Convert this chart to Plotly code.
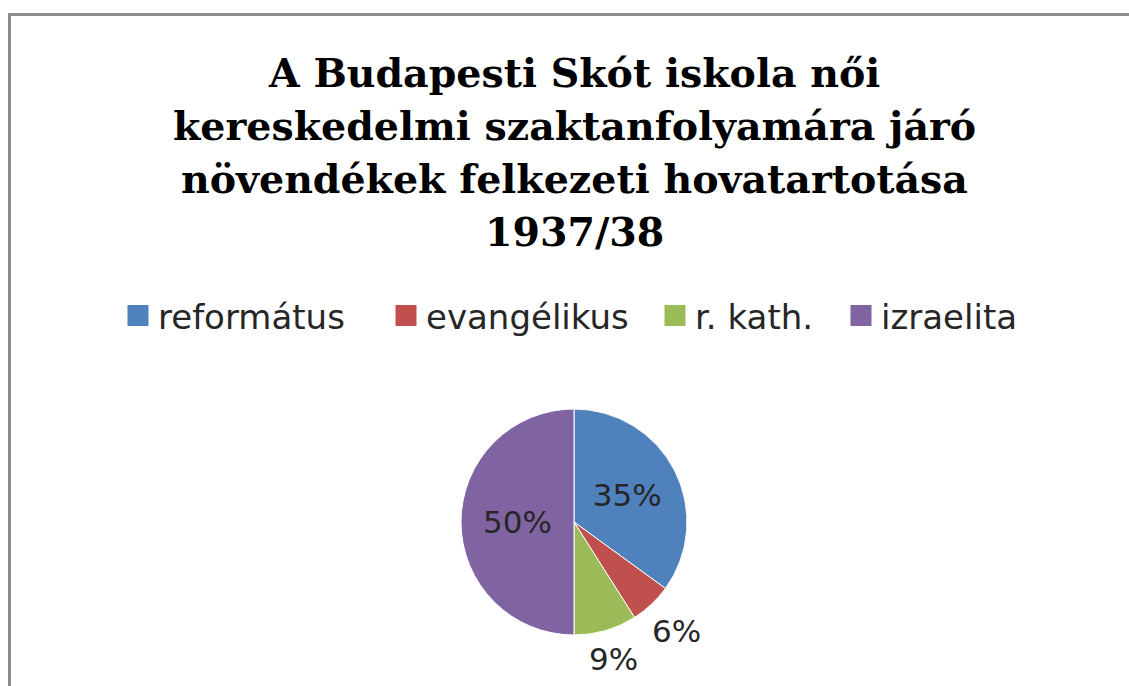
import math
import plotly.graph_objects as go

W, H = 1129, 686

categories = ["református", "evangélikus", "r. kath.", "izraelita"]
values = [35, 6, 9, 50]
colors = ["#4F81BD", "#C0504D", "#9BBB59", "#8064A2"]
label_inside = [True, False, False, True]
title_lines = [
    "A Budapesti Skót iskola női",
    "kereskedelmi szaktanfolyamára járó",
    "növendékek felkezeti hovatartotása",
    "1937/38",
]

# layout geometry (pixels)
cx, cy, r = 574, 522, 113
legend_left = [118, 386, 655, 841]
legend_y = 316
title_centers = [73, 126, 179, 232]
LABEL_FONT = 31

total = sum(values)
fig = go.Figure()
fig.add_trace(
    go.Pie(
        labels=categories,
        values=values,
        sort=False,
        direction="clockwise",
        rotation=0,
        marker=dict(colors=colors, line=dict(color="#ffffff", width=1)),
        texttemplate=["%{percent:.0%}" if ins else "" for ins in label_inside],
        textposition=["inside" if ins else "none" for ins in label_inside],
        insidetextorientation="horizontal",
        textfont=dict(family="DejaVu Sans", size=LABEL_FONT, color="#262626"),
        domain=dict(x=[(cx - r) / W, (cx + r) / W], y=[(H - cy - r) / H, (H - cy + r) / H]),
        showlegend=False,
        hoverinfo="label+percent",
    )
)

# legend entries (one legend per entry so spacing can follow the original)
for i, (cat, col) in enumerate(zip(categories, colors)):
    fig.add_trace(
        go.Scatter(
            x=[None],
            y=[None],
            mode="markers",
            name=cat,
            marker=dict(symbol="square", size=16, color=col, line=dict(color=col, width=5)),
            legend="legend" if i == 0 else f"legend{i + 1}",
            showlegend=True,
            hoverinfo="skip",
        )
    )

# outside labels for the small slices, placed along each slice's mid-angle
annotations = []
cum = 0.0
for v, ins in zip(values, label_inside):
    start = cum
    cum += v
    if ins:
        continue
    mid = 90 - 360 * (start + v / 2) / total  # clockwise from 12 o'clock
    th = math.radians(mid)
    txt = f"{round(100 * v / total)}%"
    w_txt, h_txt = 0.8 * LABEL_FONT * len(txt), 0.78 * LABEL_FONT
    ext = abs(w_txt / 2 * math.cos(th)) + abs(h_txt / 2 * math.sin(th))
    d = r + 11 + ext
    px = cx + d * math.cos(th)
    py = cy - d * math.sin(th)
    annotations.append(
        dict(
            text=txt,
            x=px / W,
            y=(H - py) / H,
            xref="paper",
            yref="paper",
            xanchor="center",
            yanchor="middle",
            showarrow=False,
            font=dict(family="DejaVu Sans", size=LABEL_FONT, color="#262626"),
        )
    )

for txt, yc in zip(title_lines, title_centers):
    annotations.append(
        dict(
            text=txt,
            x=574 / W,
            y=(H - yc) / H,
            xref="paper",
            yref="paper",
            xanchor="center",
            yanchor="middle",
            showarrow=False,
            font=dict(family="DejaVu Serif", size=39.5, color="#000000", weight="bold"),
        )
    )

legend_style = dict(
    orientation="h",
    xanchor="left",
    yanchor="middle",
    y=(H - legend_y) / H,
    font=dict(family="DejaVu Sans", size=34, color="#262626"),
    bgcolor="rgba(0,0,0,0)",
    itemclick=False,
    itemdoubleclick=False,
)
legends = {}
for i, lx in enumerate(legend_left):
    key = "legend" if i == 0 else f"legend{i + 1}"
    legends[key] = dict(legend_style, x=lx / W)

fig.update_layout(
    width=W,
    height=H,
    margin=dict(l=0, r=0, t=0, b=0),
    paper_bgcolor="#ffffff",
    plot_bgcolor="#ffffff",
    xaxis=dict(visible=False),
    yaxis=dict(visible=False),
    annotations=annotations,
    shapes=[
        dict(
            type="rect",
            xref="paper",
            yref="paper",
            x0=9.5 / W,
            x1=1.05,
            y0=-0.05,
            y1=(H - 14.5) / H,
            line=dict(color="#8c8c8c", width=3),
            fillcolor="rgba(0,0,0,0)",
            layer="below",
        )
    ],
    **legends,
)

fig.write_html(
    "out.html",
    config={"displayModeBar": False},
    post_script="document.body.style.margin='0';",
)
